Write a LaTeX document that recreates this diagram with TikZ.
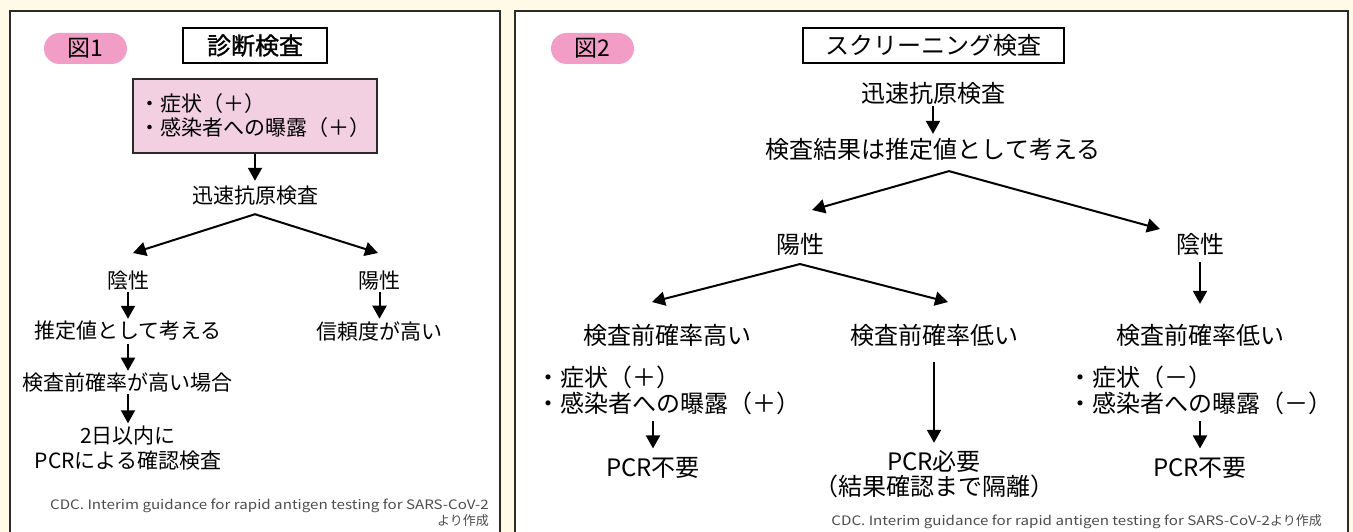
\documentclass[tikz,border=0pt]{standalone}
\usepackage{fontspec}
\setmainfont{Noto Sans CJK JP}
\newfontfamily\jpb[FakeBold=1.2]{Noto Sans CJK JP}
\newfontfamily\citelat[FakeStretch=1.165]{Noto Sans CJK JP}
\usetikzlibrary{arrows.meta}
\definecolor{cream}{HTML}{FFF9E8}
\definecolor{badge}{HTML}{F29DC5}
\definecolor{boxpink}{HTML}{F2D0E2}
\definecolor{frame}{HTML}{2B2B2B}
\definecolor{citec}{HTML}{4D4D4D}
\begin{document}
\begin{tikzpicture}[x=1pt,y=-1pt,
  t21/.style={inner sep=0pt, outer sep=0pt, font=\fontsize{21}{25}\selectfont, align=center},
  t24/.style={inner sep=0pt, outer sep=0pt, font=\fontsize{24}{25}\selectfont, align=center},
  bul24/.style={inner sep=0pt, outer sep=0pt, font=\fontsize{24}{26}\selectfont, align=left},
  arr/.style={line width=2pt, -{Triangle[length=13pt,width=14pt]}},
  varr/.style={line width=2pt, {Triangle[length=13pt,width=14pt]}-{Triangle[length=13pt,width=14pt]}, line join=miter},
  panel/.style={draw=frame, line width=2.2pt, fill=white},
  badgest/.style={fill=badge, rounded corners=15.5pt, minimum width=83pt, minimum height=31pt, inner sep=0pt, font=\fontsize{23}{23}\selectfont},
  titlebox/.style={draw=black, line width=1.5pt, fill=white, inner sep=0pt, minimum height=35pt, font=\fontsize{24}{24}\selectfont},
  citest/.style={inner sep=0pt, font=\fontsize{13}{16}\selectfont, text=citec, align=right}
]
\useasboundingbox (0,0) rectangle (1353,532);
\fill[cream] (0,0) rectangle (1353,532);
\draw[panel] (10,11) rectangle (500,545);
\draw[panel] (515,11) rectangle (1348,545);

% ---------- Panel 1 ----------
\node[badgest] (b1) at (85.5,48.5) {図1};
\node[titlebox, minimum width=144pt] (ti1) at (255,45.5) {\jpb 診断検査};
\node[draw=frame, line width=1.2pt, fill=boxpink, minimum width=244pt, minimum height=74pt,
      inner sep=0pt, align=left, font=\fontsize{21}{24}\selectfont] (sym1) at (255,116)
      {・症状（＋）\\・感染者への曝露（＋）};
\node[t21] (kg1) at (255,196) {迅速抗原検査};
\node[t21] (neg1) at (128,281) {陰性};
\node[t21] (pos1) at (379.5,281) {陽性};
\node[t21] (est1) at (128,331) {推定値として考える};
\node[t21] (hi1) at (128,383) {検査前確率が高い場合};
\node[t21] (pcr1) at (128,448) {2日以内に\\PCRによる確認検査};
\node[t21] (rel1) at (379.5,331) {信頼度が高い};
\node[citest, anchor=north east] (c1) at (489,498.5)
  {{\citelat CDC. Interim guidance for rapid antigen testing for SARS-CoV-2}\\より作成};

\draw[arr, shorten >=5.5pt] (sym1) -- (kg1);
\coordinate (ap1) at ([yshift=-8.5pt]kg1.south);
\coordinate (tl1) at (133,253);
\coordinate (tr1) at (378,253);
\draw[varr] (tl1) -- (ap1) -- (tr1);
\draw[arr, shorten <=1.5pt, shorten >=2.5pt] (neg1) -- (est1);
\draw[arr, shorten <=1.5pt, shorten >=2.5pt] (pos1) -- (rel1);
\draw[arr, shorten <=3.5pt, shorten >=2.5pt] (est1) -- (hi1);
\draw[arr, shorten <=1.5pt, shorten >=2.5pt] (hi1) -- (pcr1);

% ---------- Panel 2 ----------
\node[badgest] (b2) at (592.5,48.5) {図2};
\node[titlebox, minimum width=261pt] (ti2) at (933.5,45.5) {スクリーニング検査};
\node[t24] (kg2) at (933,93) {迅速抗原検査};
\node[t24] (kk2) at (933,149) {検査結果は推定値として考える};
\node[t24] (pos2) at (800,244) {陽性};
\node[t24] (neg2) at (1200,244) {陰性};
\node[t24] (hi2) at (667,335.5) {検査前確率高い};
\node[t24] (lo2) at (934,335.5) {検査前確率低い};
\node[t24] (lo3) at (1200,335.5) {検査前確率低い};
\node[bul24] (bl2) at (668,390) {・症状（＋）\\・感染者への曝露（＋）};
\node[bul24] (bl3) at (1200,390) {・症状（－）\\・感染者への曝露（－）};
\node[t24] (pn2) at (653,467.5) {PCR不要};
\node[t24] (pr2) at (934,474.5) {PCR必要\\（結果確認まで隔離）};
\node[t24] (pn3) at (1200,467.5) {PCR不要};
\node[citest, anchor=north east] (c2) at (1322,514.5)
  {{\citelat CDC. Interim guidance for rapid antigen testing for SARS-CoV-2}より作成};

\draw[arr, shorten <=2pt, shorten >=4pt] (kg2) -- (kk2);
\coordinate (ap2) at ([xshift=16pt,yshift=-11pt]kk2.south);
\coordinate (tl2) at (812,210);
\coordinate (tr2) at (1160,229);
\draw[varr] (tl2) -- (ap2) -- (tr2);
\coordinate (ap3) at ([yshift=-9pt]pos2.south);
\coordinate (tl3) at (652,302);
\coordinate (tr3) at (948,302);
\draw[varr] (tl3) -- (ap3) -- (tr3);
\draw[arr, shorten <=7pt, shorten >=20.5pt] (neg2) -- (lo3);
\draw[arr, shorten <=15.5pt, shorten >=8pt] (lo2) -- (pr2);
\draw[arr, shorten <=7pt, shorten >=8.5pt] (pn2.north |- bl2.south) -- (pn2.north);
\draw[arr, shorten <=7pt, shorten >=8.5pt] (pn3.north |- bl3.south) -- (pn3.north);
\end{tikzpicture}
\end{document}
